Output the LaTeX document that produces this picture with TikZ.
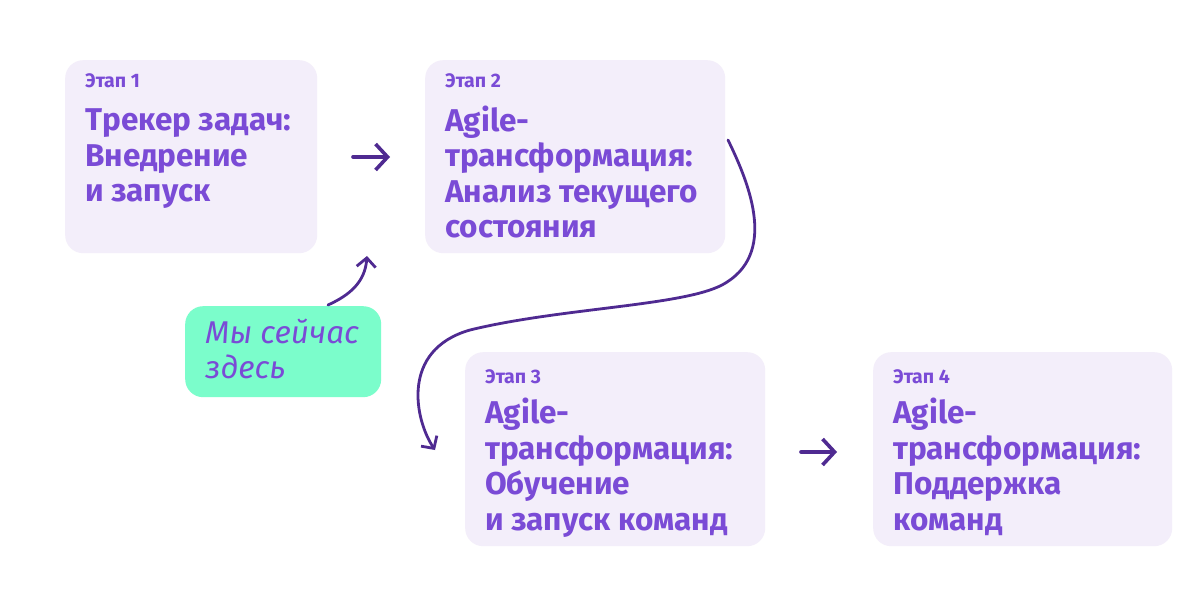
\documentclass[tikz,border=0pt]{standalone}
\usepackage{fontspec}
\setmainfont{Fira Sans}
\usetikzlibrary{arrows.meta}
\definecolor{boxfill}{HTML}{F3EEFA}
\definecolor{txt}{HTML}{7A4BD6}
\definecolor{arr}{HTML}{4F2A91}
\definecolor{grn}{HTML}{7BFDCB}
\begin{document}
\begin{tikzpicture}[x=1pt,y=-1pt,
  stage/.style={fill=boxfill, rounded corners=18pt, draw=none, anchor=north west, inner sep=0pt},
  note/.style={fill=grn, rounded corners=18pt, draw=none, anchor=north west, inner sep=0pt},
  lbl/.style={anchor=base west, inner sep=0pt, text=txt, font=\fontsize{19.5}{19.5}\selectfont\bfseries},
  ttl/.style={anchor=base west, inner sep=0pt, text=txt, align=left, font=\fontsize{31.5}{35.5}\selectfont\bfseries},
  itl/.style={anchor=base west, inner sep=0pt, text=txt, align=left, font=\fontsize{31.5}{35}\selectfont\itshape},
  conn/.style={draw=arr, line width=3.6pt, line cap=round, -{Straight Barb[length=12pt,width=26pt,line width=3.6pt]}},
  curv/.style={draw=arr, line width=2.8pt, line cap=round, -{Straight Barb[length=9pt,width=19pt,line width=2.8pt]}}
]
\useasboundingbox[fill=white] (0,0) rectangle (1200,604);
% boxes
\node[stage, minimum width=252pt, minimum height=193pt] (b1) at (65,60) {};
\node[stage, minimum width=300pt, minimum height=193pt] (b2) at (425,60) {};
\node[stage, minimum width=300pt, minimum height=194pt] (b3) at (465,352) {};
\node[stage, minimum width=299pt, minimum height=194pt] (b4) at (873,352) {};
\node[note, minimum width=196pt, minimum height=91pt] (g) at (185,306) {};
% labels (base anchor = baseline of the last line)
\node[lbl] (l1) at (85,88) {Этап 1};
\node[ttl] (t1) at (85,202) {Трекер задач:\\Внедрение\\и запуск};
\node[lbl] (l2) at (445,88) {Этап 2};
\node[ttl] (t2) at (445,238) {Agile-\\трансформация:\\Анализ текущего\\состояния};
\node[lbl] (l3) at (485,383) {Этап 3};
\node[ttl] (t3) at (485,530) {Agile-\\трансформация:\\Обучение\\и запуск команд};
\node[lbl] (l4) at (893,383) {Этап 4};
\node[ttl] (t4) at (893,530) {Agile-\\трансформация:\\Поддержка\\команд};
\node[itl] (gt) at (205,378) {Мы сейчас\\здесь};
% connectors
\coordinate (a1s) at (353,157); \coordinate (a1e) at (390,157);
\draw[conn] (a1s) -- (a1e);
\coordinate (a2s) at (801,452); \coordinate (a2e) at (837,452);
\draw[conn] (a2s) -- (a2e);
\coordinate (cs) at (728,140);
\coordinate (ce) at (435,450);
\draw[curv] (cs) .. controls (750,185) and (778,255) .. (722,285)
  .. controls (682,306) and (560,308) .. (470,330)
  .. controls (400,350) and (415,420) .. (ce);
\coordinate (ns) at (328,305);
\coordinate (ne) at (367,256);
\draw[curv] (ns) .. controls (350,295) and (365,282) .. (ne);
\end{tikzpicture}
\end{document}
